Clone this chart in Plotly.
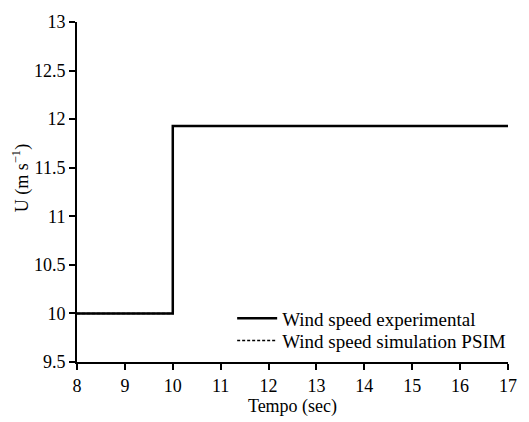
import plotly.graph_objects as go

time_exp = [8, 10, 10, 17]
speed_exp = [10, 10, 11.93, 11.93]
time_sim = [8, 10, 10, 17]
speed_sim = [10, 10, 11.93, 11.93]
x_ticks = [8, 9, 10, 11, 12, 13, 14, 15, 16, 17]
y_ticks = [9.5, 10, 10.5, 11, 11.5, 12, 12.5, 13]
y_tick_labels = ["9.5", "10", "10.5", "11", "11.5", "12", "12.5", "13"]

font = "Liberation Serif"

fig = go.Figure()
fig.add_trace(go.Scatter(x=time_sim, y=speed_sim, mode="lines",
                         name="Wind speed simulation PSIM", legend="legend2",
                         line=dict(color="black", width=1.5, dash="3px,2px")))
fig.add_trace(go.Scatter(x=time_exp, y=speed_exp, mode="lines",
                         name="Wind speed experimental", legend="legend",
                         line=dict(color="black", width=2.5)))

leg_common = dict(xanchor="left", yanchor="middle", bgcolor="rgba(0,0,0,0)",
                  font=dict(size=19, family=font), itemwidth=40)

fig.update_layout(
    width=529, height=422,
    margin=dict(l=77, r=15, t=13, b=57),
    plot_bgcolor="white", paper_bgcolor="white",
    font=dict(family=font, size=18, color="black"),
    showlegend=True,
    legend=dict(x=0.36, y=0.128, **leg_common),
    legend2=dict(x=0.36, y=0.063, **leg_common),
    xaxis=dict(range=[8, 17], tickvals=x_ticks, showgrid=False, zeroline=False,
               showline=True, linecolor="black", linewidth=2,
               ticks="outside", ticklen=6, tickwidth=2, tickcolor="black",
               tickfont=dict(family=font, size=18),
               title=dict(text="Tempo (sec)", standoff=2,
                          font=dict(size=18, family=font))),
    yaxis=dict(range=[9.5, 13], tickvals=y_ticks, ticktext=y_tick_labels,
               showgrid=False, zeroline=False,
               showline=True, linecolor="black", linewidth=2,
               ticks="outside", ticklen=6, tickwidth=2, tickcolor="black",
               tickfont=dict(family=font, size=18)),
    annotations=[dict(text="U (m s<sup>−1</sup>)", textangle=-90,
                      xref="paper", yref="paper", x=-0.128, y=0.54,
                      xanchor="center", yanchor="middle", showarrow=False,
                      font=dict(size=18, family=font))],
)

fig.write_html("out.html")
